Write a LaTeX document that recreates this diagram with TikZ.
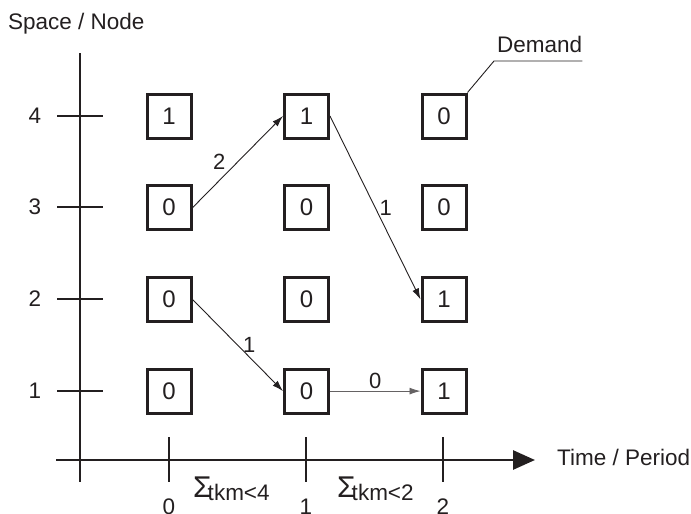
\documentclass[tikz,border=0pt]{standalone}
\usepackage{fontspec}
\setmainfont{Liberation Sans}
\usetikzlibrary{arrows.meta}
\definecolor{ink}{RGB}{35,31,32}
\tikzset{
	cell/.style={draw=ink, line width=3pt, minimum size=44pt, inner sep=0pt, text=ink, font=\fontsize{24}{24}\selectfont},
	flow/.style={draw=ink, line width=0.9pt, -{Latex[length=11pt,width=7pt]}},
	axis/.style={draw=ink, line width=2.8pt},
	lbl/.style={text=ink, inner sep=2pt, font=\fontsize{22.5}{22.5}\selectfont},
	qty/.style={text=ink, inner sep=2pt, font=\fontsize{22}{22}\selectfont}
}

\begin{document}
\begin{tikzpicture}[x=1pt, y=-1pt]
	\useasboundingbox (0,0) rectangle (691,514);
	\draw[axis] (80,53) -- (80,482);
	\draw[axis, -{Triangle[length=22pt,width=19pt]}] (56,460) -- (535,460);
	\node[lbl, anchor=base west, inner sep=0pt] (space) at (8,29) {Space / Node};
	\node[lbl, anchor=base west, inner sep=0pt] (time) at (557,465) {Time / Period};
	\foreach \s/\y in {4/116, 3/207, 2/299, 1/391}
	{\draw[axis] (57,\y) -- (103,\y);
	\node[lbl] (s\s) at (35,\y) {\s};}
	\foreach \t/\x in {0/169, 1/306, 2/443}
	{\draw[axis] (\x,437) -- (\x,482);
	\node[lbl, anchor=north] (t\t) at (\x,497) {\t};}
	\foreach \t/\s/\d in {0/4/1, 0/3/0, 0/2/0, 0/1/0, 1/4/1, 1/3/0, 1/2/0, 1/1/0, 2/4/0, 2/3/0, 2/2/1, 2/1/1}
	{\node[cell] (c\t\s) at ({169+137.5*\t},{116+91.7*(4-\s)}) {\d};}
	\draw[flow] (c03.east) -- node[qty, left=10pt] {2} (c14.west);
	\draw[flow] (c14.east) -- node[qty, right=2pt] {1} (c22.west);
	\draw[flow] (c02.east) -- node[qty, right=3pt] {1} (c11.west);
	\draw[flow, draw=ink!70] (c11.east) -- node[qty, above] {0} (c21.west);
	\node[lbl, anchor=base west, inner sep=0pt] (demand) at (497,52) {Demand};
	\coordinate (dk) at (494,61);
	\draw[ink, line width=0.9pt] (c24.north east) -- (dk) -- (dk -| demand.east);
	\node[anchor=base west, inner sep=0pt, text=ink] (sum0) at (193,497) {\fontsize{30}{30}\selectfont Σ\kern-4pt\fontsize{22.5}{22.5}\selectfont\raisebox{-3pt}{tkm<4}};
	\node[anchor=base west, inner sep=0pt, text=ink] (sum1) at (337,497) {\fontsize{30}{30}\selectfont Σ\kern-4pt\fontsize{22.5}{22.5}\selectfont\raisebox{-3pt}{tkm<2}};
\end{tikzpicture}
\end{document}
